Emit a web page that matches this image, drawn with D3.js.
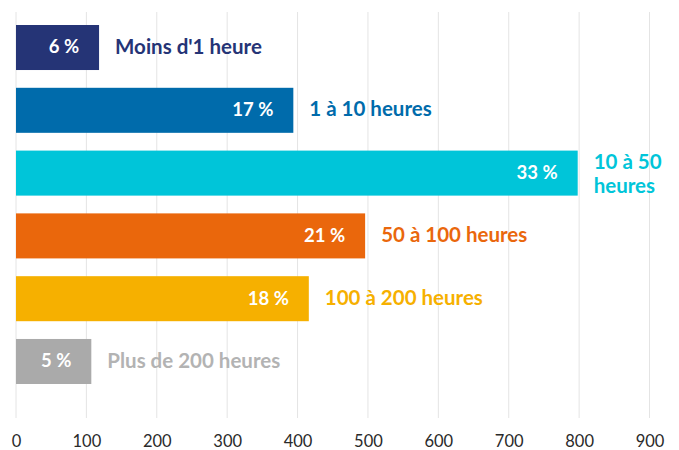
<!DOCTYPE html>
<html lang="fr">
<head>
    <meta charset="UTF-8">
    <title>Heures</title>
    <script src="https://d3js.org/d3.v7.min.js"></script>
    <style>
        body { margin: 0; background: #fff; }
        text { font-family: 'Lato', 'Open Sans', sans-serif; }
        .tick text { font-size: 16.5px; fill: #2a2a2a; }
    </style>
</head>
<body>
<script>

    const width  = 679;
    const height = 450;

    const categories = ["Moins d'1 heure", "1 à 10 heures", "10 à 50 heures", "50 à 100 heures", "100 à 200 heures", "Plus de 200 heures"];
    const values     = [118, 394, 798, 496, 416, 107];
    const percents   = ["6 %", "17 %", "33 %", "21 %", "18 %", "5 %"];
    const colors     = ["#253476", "#006bab", "#00c5d9", "#ea670c", "#f6b000", "#aaaaaa"];
    const labelColors = ["#253476", "#006bab", "#00c5d9", "#ea670c", "#f6b000", "#b3b3b3"];
    const ticks      = [0, 100, 200, 300, 400, 500, 600, 700, 800, 900];

    // the third label is wrapped on two lines in the original
    const labelLines = [["Moins d'1 heure"], ["1 à 10 heures"], ["10 à 50", "heures"], ["50 à 100 heures"], ["100 à 200 heures"], ["Plus de 200 heures"]];

    const x = d3.scaleLinear()
            .domain([0, 900])
            .range([16, 649.5]);

    const y = d3.scaleBand()
            .domain(categories)
            .range([25, 384])
            .paddingInner(0.283)
            .paddingOuter(0);

    const svg = d3.select("body")
            .append("svg")
            .attr("width", width)
            .attr("height", height);

    // vertical grid
    svg.append("g")
            .selectAll("line")
            .data(ticks)
            .enter()
            .append("line")
            .attr("x1", d => x(d))
            .attr("x2", d => x(d))
            .attr("y1", 12)
            .attr("y2", 418)
            .attr("stroke", "#e4e4e4")
            .attr("stroke-width", 1);

    const axis = svg.append("g")
            .attr("transform", "translate(0,431)")
            .call(d3.axisBottom(x).tickValues(ticks).tickSize(0).tickPadding(4));
    axis.select(".domain").remove();

    const rows = svg.append("g")
            .selectAll("g")
            .data(categories)
            .enter()
            .append("g");

    rows.append("rect")
            .attr("x", x(0))
            .attr("y", d => y(d))
            .attr("width", (d, i) => x(values[i]) - x(0))
            .attr("height", y.bandwidth())
            .attr("fill", (d, i) => colors[i]);

    rows.append("text")
            .attr("x", (d, i) => x(values[i]) - 20)
            .attr("y", d => y(d) + y.bandwidth() / 2)
            .attr("dy", "0.32em")
            .attr("text-anchor", "end")
            .attr("fill", "#fff")
            .style("font-size", "18.5px")
            .style("font-weight", "bold")
            .text((d, i) => percents[i]);

    rows.append("text")
            .attr("x", (d, i) => x(values[i]) + 16)
            .attr("y", d => y(d) + y.bandwidth() / 2)
            .attr("fill", (d, i) => labelColors[i])
            .style("font-size", "20.5px")
            .style("font-weight", "bold")
            .each(function(d, i) {
                const lines = labelLines[i];
                const t = d3.select(this);
                lines.forEach((l, j) => {
                    t.append("tspan")
                            .attr("x", x(values[i]) + 16)
                            .attr("dy", j === 0 ? (0.3 - (lines.length - 1) * 0.52) + "em" : "1.2em")
                            .text(l);
                });
            });

</script>
</body>
</html>
